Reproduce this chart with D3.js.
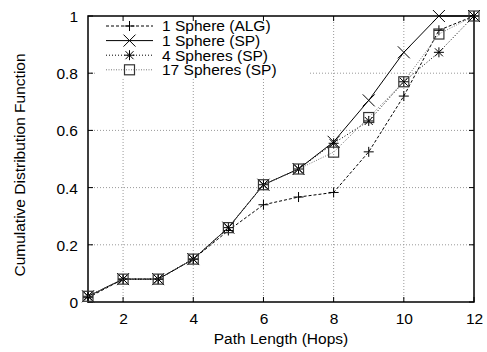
<!DOCTYPE html>
<html><head><meta charset="utf-8">
<script src="https://cdn.jsdelivr.net/npm/d3@7"></script>
<style>body{margin:0;background:#fff}svg{display:block}text{font-family:"Liberation Sans",Arial,sans-serif}</style>
</head><body><svg id="c" width="487" height="352"></svg>
<script>
const hops = [1,2,3,4,5,6,7,8,9,10,11,12];
const alg1 = [0.015,0.08,0.08,0.15,0.25,0.34,0.367,0.383,0.525,0.72,0.95,1.0];
const sp1  = [0.02,0.08,0.08,0.15,0.26,0.41,0.465,0.56,0.705,0.873,1.0,1.0];
const sp4  = [0.02,0.08,0.08,0.15,0.26,0.41,0.465,0.555,0.633,0.77,0.873,1.0];
const sp17 = [0.02,0.08,0.08,0.15,0.26,0.41,0.465,0.524,0.645,0.77,0.937,1.0];
const seriesNames = ["1 Sphere (ALG)","1 Sphere (SP)","4 Spheres (SP)","17 Spheres (SP)"];
const xTicks = [2,4,6,8,10,12];
const yTicks = [0,0.2,0.4,0.6,0.8,1];

const FS = 15.5;
const svg = d3.select("#c");
const L=88,R=474,T=16,B=302;
const x = d3.scaleLinear().domain([1,12]).range([L,R]);
const y = d3.scaleLinear().domain([0,1]).range([B,T]);

// grid
const g = svg.append("g");
g.selectAll(".gx").data(xTicks.filter(v=>v<12)).enter().append("line")
 .attr("x1",d=>x(d)).attr("x2",d=>x(d)).attr("y1",B).attr("y2",T)
 .attr("stroke","#999").attr("stroke-width",1).attr("stroke-dasharray","1,2");
g.selectAll(".gy").data(yTicks.filter(v=>v>0&&v<1)).enter().append("line")
 .attr("x1",L).attr("x2",R).attr("y1",d=>y(d)).attr("y2",d=>y(d))
 .attr("stroke","#999").attr("stroke-width",1).attr("stroke-dasharray","1,2");

// legend background (opaque)
svg.append("rect").attr("x",96).attr("y",T+2).attr("width",212).attr("height",60).attr("fill","#fff");

// axes
const xa = svg.append("g").attr("transform",`translate(0,${B})`)
  .call(d3.axisBottom(x).tickValues(xTicks).tickSize(0).tickPadding(11));
const ya = svg.append("g").attr("transform",`translate(${L},0)`)
  .call(d3.axisLeft(y).tickValues(yTicks).tickSize(0).tickPadding(10).tickFormat(d=>d3.format("~g")(d)));
[xa,ya].forEach(a=>{a.select(".domain").remove();a.selectAll("text").attr("font-size",FS).attr("fill","#000");});
ya.selectAll("text").attr("dy","0.35em");
xa.selectAll("text").attr("dy","0.71em");

// inward ticks, mirrored
const tk=svg.append("g").attr("stroke","#000").attr("stroke-width",1);
xTicks.forEach(v=>{tk.append("line").attr("x1",x(v)).attr("x2",x(v)).attr("y1",B).attr("y2",B-5);
  tk.append("line").attr("x1",x(v)).attr("x2",x(v)).attr("y1",T).attr("y2",T+5);});
yTicks.forEach(v=>{tk.append("line").attr("x1",L).attr("x2",L+5).attr("y1",y(v)).attr("y2",y(v));
  tk.append("line").attr("x1",R).attr("x2",R-5).attr("y1",y(v)).attr("y2",y(v));});

svg.append("rect").attr("x",L).attr("y",T).attr("width",R-L).attr("height",B-T)
  .attr("fill","none").attr("stroke","#000").attr("stroke-width",1.5);

// markers
function marker(sel,type,cx,cy){
  const gg=sel.append("g").attr("transform",`translate(${cx},${cy})`).attr("fill","none");
  const s=5;
  if(type==="plus"||type==="star"){
    gg.append("path").attr("d",`M${-s},0H${s}M0,${-s}V${s}`).attr("stroke","#000").attr("stroke-width",1);
  }
  if(type==="x"||type==="star"){
    const k= type==="x"?6:4;
    gg.append("path").attr("d",`M${-k},${-k}L${k},${k}M${-k},${k}L${k},${-k}`).attr("stroke","#000").attr("stroke-width",1);
  }
  if(type==="square"){
    gg.append("rect").attr("x",-5).attr("y",-5).attr("width",10).attr("height",10).attr("stroke","#333").attr("stroke-width",1.2);
  }
}
const series=[
 {name:seriesNames[0],vals:alg1,dash:"3,2",stroke:"#000",m:"plus"},
 {name:seriesNames[1],vals:sp1,dash:null,stroke:"#000",m:"x"},
 {name:seriesNames[2],vals:sp4,dash:"1,2",stroke:"#000",m:"star"},
 {name:seriesNames[3],vals:sp17,dash:"1,1.5",stroke:"#777",m:"square"}
];
const line=d3.line().x((d,i)=>x(hops[i])).y(d=>y(d));
const plot=svg.append("g");
series.forEach(s=>{
  plot.append("path").datum(s.vals).attr("d",line).attr("fill","none")
    .attr("stroke",s.stroke).attr("stroke-width",1).attr("stroke-dasharray",s.dash);
  s.vals.forEach((v,i)=>marker(plot,s.m,x(hops[i]),y(v)));
});

// legend
const lg=svg.append("g");
series.forEach((s,i)=>{
  const yy=26+i*14.6;
  lg.append("line").attr("x1",106).attr("x2",153).attr("y1",yy).attr("y2",yy)
    .attr("stroke",s.stroke).attr("stroke-width",1).attr("stroke-dasharray",s.dash);
  marker(lg,s.m,129.5,yy);
  lg.append("text").attr("x",162).attr("y",yy).attr("dy","0.35em").attr("font-size",FS).text(s.name);
});

// axis titles
svg.append("text").attr("x",281).attr("y",344).attr("text-anchor","middle").attr("font-size",FS).text("Path Length (Hops)");
svg.append("text").attr("transform",`translate(25,${(T+B)/2+6}) rotate(-90)`).attr("text-anchor","middle").attr("font-size",FS).text("Cumulative Distribution Function");
</script></body></html>
